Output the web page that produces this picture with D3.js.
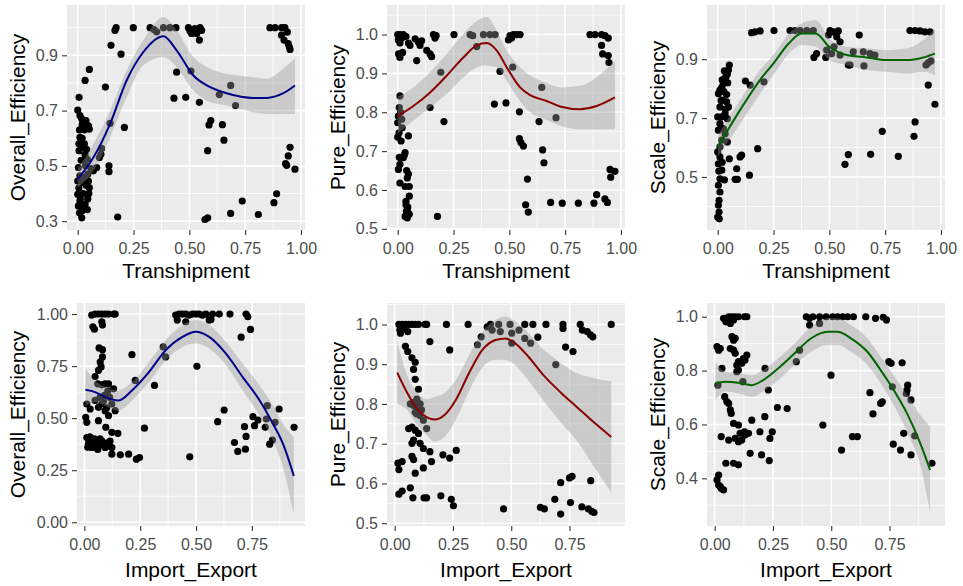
<!DOCTYPE html>
<html>
<head>
<meta charset="utf-8">
<script src="https://cdn.jsdelivr.net/npm/d3@7"></script>
<style>
body { margin: 0; background: #ffffff; }
</style>
</head>
<body>
<svg id="drawing_region"></svg>
<script>
// ---- data ----
// points: [x, y]
const transOverall = [
  [.167,.99],[.172,1.0],[.249,1.0],[.324,1.0],[.342,.993],[.354,.985],[.384,1.0],[.413,1.0],[.44,1.0],[.496,1.0],[.503,.988],[.51,.979],[.525,.997],[.533,.979],[.548,1.0],[.545,.955],[.555,.99],
  [.861,1.0],[.884,1.0],[.913,1.0],[.928,1.0],[.913,.973],[.924,.955],[.939,.984],[.943,.942],[.948,.93],[.951,.921],
  [.149,.936],[.194,.904],[.033,.809],[.052,.849],[.006,.748],[0,.702],[.01,.682],[.018,.67],[.037,.664],[.048,.645],[.052,.633],[.124,.785],[.145,.654],[.209,.639],
  [.01,.603],[.018,.579],[.025,.567],[.006,.555],[.033,.542],[.043,.524],[.107,.563],[.104,.542],[.097,.53],[.085,.494],[.07,.482],[.14,.5],[.14,.479],
  [.003,.494],[.01,.464],[0,.445],[.025,.458],[.048,.445],[.052,.421],[.043,.397],[0,.397],[.01,.373],[.033,.361],[.003,.355],[.018,.336],[.043,.342],[.018,.312],[.179,.315],
  [.02,.6],[.03,.58],[.04,.56],[.015,.52],[.035,.5],[.045,.47],[.005,.42],[.025,.4],[.012,.38],[.03,.35],[.045,.38],[.02,.65],[.03,.63],[.008,.63],[.06,.49],
  [.005,.58],[.028,.52],[.038,.43],[.022,.44],[.008,.33],[.05,.4],
  [.443,.839],[.507,.843],[.431,.745],[.484,.748],[.545,.73],[.634,.758],[.685,.791],[.707,.718],[.596,.664],[.588,.648],[.648,.649],[.655,.593],[.582,.555],
  [.951,.567],[.943,.536],[.931,.508],[.936,.502],[.973,.488],[.891,.399],[.879,.367],[.737,.373],[.685,.328],[.809,.324],[.582,.312],[.57,.306]
];
const transPure = [
  [0,1.0],[.01,1.0],[.025,1.0],[.018,.991],[.003,.986],[.01,.978],[.037,.995],[.004,.95],[.01,.941],[.022,.954],[.048,.978],[.055,.972],[.078,.989],[.093,.98],[.107,.984],[.1,.972],[.085,.933],
  [.13,.959],[.145,.95],[.152,.943],[.16,1.0],[.172,.997],[.167,.991],[.252,1.0],[.324,1.0],[.336,.997],[.354,.969],[.384,1.0],[.413,1.0],[.436,1.0],
  [.496,.986],[.503,.997],[.518,1.0],[.533,1.0],[.548,1.0],[.51,.991],[.861,1.0],[.884,1.0],[.913,1.0],[.928,.997],[.943,.991],[.913,.972],[.918,.95],[.943,.946],[.946,.928],
  [.458,.905],[.515,.916],[.193,.903],[.207,.776],[.145,.812],[.433,.821],[.485,.824],[.545,.801],[.645,.864],[.709,.786],[.633,.776],
  [.545,.732],[.552,.722],[.563,.713],[.649,.703],[.655,.67],[.581,.628],[.573,.562],[.585,.543],
  [.685,.568],[.737,.566],[.809,.566],[.879,.566],[.891,.588],[.928,.577],[.939,.568],[.951,.653],[.973,.648],[.954,.633],[.178,.532],
  [.01,.842],[.007,.812],[.003,.79],[.018,.782],[0,.773],[.006,.747],[0,.736],[.015,.726],[.048,.739],[.033,.696],[.025,.683],[.007,.684],[.01,.666],[.003,.653],
  [.048,.641],[.043,.631],[.01,.618],[.033,.609],[.052,.609],[.037,.562],[.043,.549],[.048,.536],[.033,.532],[.052,.538],[.043,.528],[.037,.571],[.052,.584],
  [.013,.8],[.02,.76],[.03,.69],[.04,.65],[.045,.556],[.039,.545]
];
const transScale = [
  [.152,.99],[.167,.993],[.19,.996],[.252,.997],[.324,.997],[.346,.997],[.369,.997],[.399,.997],[.428,.997],[.503,.997],[.518,.993],[.54,.996],[.496,.982],[.533,.976],[.548,.959],
  [.861,.997],[.884,.997],[.906,.996],[.928,.993],[.951,.993],[.488,.931],[.51,.919],[.521,.942],[.634,.982],[.431,.906],[.443,.919],[.484,.906],
  [.548,.914],[.607,.925],[.652,.925],[.682,.919],[.704,.914],[.585,.88],[.593,.88],[.655,.877],[.933,.88],[.943,.888],[.955,.894],[.943,.812],[.973,.747],
  [.884,.687],[.879,.638],[.737,.655],[.685,.577],[.809,.57],[.585,.576],[.57,.543],
  [.124,.826],[.145,.812],[.207,.823],[.179,.596],[.142,.506],[.107,.574],[.1,.568],[.085,.528],[.078,.492],[.088,.492],[.052,.562],
  [.052,.88],[.048,.863],[.043,.849],[.033,.834],[.025,.817],[.018,.804],[.01,.795],[.037,.84],[.003,.783],[.022,.761],[.04,.755],[.01,.738],[.048,.738],
  [.033,.715],[.018,.704],[0,.704],[.043,.698],[.01,.681],[.025,.664],[.003,.659],[.033,.647],[.018,.625],[.043,.619],[.01,.602],[0,.585],[.01,.568],
  [.003,.545],[.018,.523],[.01,.494],[.003,.472],[.01,.449],[.006,.421],[.003,.404],[.006,.381],[0,.364],[.007,.358],
  [.03,.86],[.02,.83],[.045,.82],[.028,.79],[.04,.78],[.015,.76],[.035,.73],[.02,.55],[.03,.49],[.005,.52]
];
const ieOverall = [
  [.033,.995],[.048,1],[.063,1],[.078,1],[.093,1],[.108,1],[.131,1],[.138,1],[.038,.939],[.045,.927],[.078,.963],[.081,.947],
  [.066,.837],[.081,.829],[.081,.794],[.071,.77],[.075,.746],[.063,.729],[.048,.7],[.06,.665],[.078,.66],[.093,.665],[.108,.665],[.131,.641],[.213,.805],[.228,.681],[.314,.657],
  [.011,.568],[.006,.504],[.011,.48],[.026,.544],[.048,.585],[.063,.552],[.078,.568],[.093,.536],[.108,.512],[.123,.568],[.138,.536],[.063,.488],[.096,.456],[.123,.432],[.15,.427],
  [.011,.407],[.018,.375],[.033,.359],[.056,.375],[.078,.391],[.093,.359],[.108,.367],[.123,.359],[.123,.327],[.161,.324],[.198,.327],[.233,.303],[.247,.311],[.269,.452],
  [.02,.39],[.04,.38],[.07,.4],[.1,.38],[.015,.36],[.05,.36],[.085,.58],[.1,.55],[.113,.6],[.03,.4],[.065,.37],
  [.025,.41],[.045,.4],[.085,.37],[.115,.39],[.06,.35],[.09,.61],[.07,.6],[.105,.63],
  [.409,.995],[.424,1],[.439,1],[.454,1],[.469,.995],[.484,1],[.499,1],[.514,1],[.529,.995],[.544,1],[.567,.974],[.574,1],[.604,1],[.652,1],[.724,1],[.732,.987],[.416,.971],[.454,.963],[.559,.971],
  [.702,.889],[.744,.926],[.364,.794],[.353,.842],[.504,.749],[.472,.314],[.597,.483],[.626,.539],[.672,.383],[.687,.34],[.717,.459],[.724,.412],[.721,.351],
  [.755,.507],[.777,.491],[.762,.464],[.819,.56],[.815,.496],[.81,.456],[.854,.48],[.83,.375],[.842,.395],[.872,.544],[.939,.456]
];
const iePure = [
  [.018,1],[.032,1],[.046,1],[.06,1],[.074,1],[.088,1],[.102,1],[.13,1],[.137,1],[.022,.986],[.025,.978],[.039,.99],[.056,.982],
  [.222,1],[.315,1],[.411,1],[.446,1],[.495,1],[.558,1],[.593,1],[.649,1],[.722,1],[.796,1],[.929,1],[.397,.994],[.453,.982],[.418,.986],[.533,.986],[.502,.978],
  [.722,.99],[.805,.986],[.826,.982],[.84,.974],[.85,.969],[.502,.953],[.558,.965],[.583,.953],[.614,.968],[.371,.969],[.355,.949],[.733,.943],[.765,.932],[.691,.899],[.236,.936],[.151,.957],
  [.046,.945],[.056,.932],[.074,.916],[.088,.905],[.081,.887],[.088,.862],[.102,.837],[.067,.8],[.081,.796],[.095,.812],[.109,.8],[.088,.779],[.109,.771],[.137,.738],[.123,.759],
  [.085,.805],[.1,.79],[.115,.785],[.095,.775],
  [.06,.738],[.074,.742],[.088,.734],[.102,.726],[.081,.709],[.074,.701],[.109,.701],[.123,.688],[.151,.68],[.207,.672],[.236,.664],[.264,.683],[.158,.655],[.123,.639],[.088,.626],
  [.032,.655],[.018,.635],[.014,.651],[.074,.668],[.081,.66],
  [.067,.589],[.018,.573],[.032,.581],[.078,.564],[.126,.564],[.137,.564],[.198,.569],[.243,.56],[.252,.544],[.467,.536],
  [.625,.54],[.642,.536],[.687,.56],[.712,.602],[.75,.614],[.761,.618],[.712,.523],[.754,.552],[.803,.541],[.831,.536],[.845,.53],[.855,.527],[.841,.607]
];
const ieScale = [
  [.038,.994],[.052,.994],[.06,1],[.074,1],[.088,1],[.102,1],[.128,1],[.138,1],[.048,.981],[.067,.975],[.081,.988],
  [.393,1],[.407,.994],[.421,1],[.45,1],[.478,1],[.506,1],[.527,1],[.549,1],[.57,1],[.595,1],[.648,1],[.69,.994],[.723,.998],[.737,.988],[.407,.969],[.45,.975],
  [.01,.889],[.017,.876],[.024,.882],[.031,.808],[.074,.926],[.081,.913],[.088,.92],[.067,.882],[.081,.876],[.088,.864],[.102,.833],[.095,.82],[.116,.827],[.123,.845],[.13,.839],[.138,.858],
  [.095,.796],[.102,.802],[.121,.759],[.216,.808],[.23,.728],[.35,.833],[.364,.876],
  [.014,.746],[.043,.703],[.052,.685],[.06,.678],[.067,.654],[.071,.641],[.081,.604],[.102,.598],[.109,.567],[.128,.573],[.13,.561],[.145,.567],[.159,.616],
  [.116,.542],[.102,.536],[.088,.548],[.06,.542],[.028,.555],[.152,.493],[.048,.456],[.081,.456],[.102,.45],[.194,.573],[.201,.487],[.234,.466],[.215,.629],[.237,.548],[.247,.573],[.269,.663],[.311,.659],
  [.017,.412],[.01,.394],[.017,.375],[.028,.363],[.038,.357],[.024,.369],
  [.464,.598],[.499,.783],[.591,.555],[.612,.555],[.544,.505],[.666,.718],[.679,.639],[.712,.678],[.719,.684],[.747,.833],[.757,.827],[.762,.74],
  [.766,.527],[.797,.505],[.804,.829],[.811,.567],[.825,.728],[.822,.715],[.828,.746],[.842,.691],[.842,.487],[.858,.558],[.932,.456]
];

// smoother: [x, fit, lower, upper]
const transOverallFit = [
  [0,.452,.42,.49],[.07,.53,.482,.579],[.145,.652,.603,.70],[.219,.809,.748,.845],[.294,.912,.864,.955],[.384,.969,.894,1.039],[.443,.918,.858,.991],
  [.518,.827,.773,.894],[.578,.791,.736,.858],[.667,.763,.718,.833],[.787,.746,.694,.821],[.846,.746,.688,.815],[.921,.763,.688,.852],[.973,.791,.688,.888]
];
const transPureFit = [
  [0,.79,.745,.84],[.07,.816,.778,.864],[.145,.851,.812,.903],[.219,.894,.847,.95],[.294,.941,.89,1.002],[.354,.972,.915,1.035],[.399,.978,.92,1.045],
  [.443,.959,.916,1.01],[.488,.916,.881,.959],[.548,.864,.829,.916],[.593,.844,.8,.895],[.667,.829,.78,.875],[.727,.815,.765,.864],[.816,.808,.756,.868],[.891,.816,.756,.89],[.973,.838,.756,.933]
];
const transScaleFit = [
  [0,.602,.568,.642],[.1,.727,.681,.761],[.19,.83,.783,.863],[.249,.885,.846,.914],[.32,.955,.919,.987],[.375,.987,.948,1.021],[.439,.987,.942,1.032],
  [.5,.942,.897,.97],[.578,.914,.88,.942],[.667,.906,.863,.937],[.757,.897,.857,.931],[.846,.897,.851,.937],[.921,.906,.857,.965],[.973,.919,.846,1.004]
];
const ieOverallFit = [
  [.005,.636,.56,.737],[.048,.625,.576,.681],[.093,.601,.56,.649],[.153,.585,.536,.633],[.213,.633,.585,.673],[.289,.721,.673,.77],[.364,.826,.778,.874],
  [.439,.89,.842,.947],[.499,.915,.858,.971],[.559,.89,.834,.947],[.634,.81,.754,.866],[.709,.697,.633,.762],[.785,.585,.512,.657],[.845,.472,.391,.56],[.89,.375,.262,.472],[.938,.222,.037,.407]
];
const iePureFit = [
  [.011,.879,.80,.957],[.053,.829,.785,.873],[.095,.788,.748,.83],[.137,.767,.722,.812],[.172,.761,.705,.818],[.215,.773,.718,.828],[.264,.812,.762,.862],
  [.32,.879,.834,.924],[.376,.936,.891,.981],[.432,.961,.911,1.011],[.474,.965,.91,1.02],[.516,.953,.898,1.008],[.572,.92,.86,.98],[.642,.87,.805,.935],
  [.712,.829,.754,.904],[.782,.792,.707,.877],[.852,.755,.645,.865],[.929,.717,.577,.857]
];
const ieScaleFit = [
  [.003,.753,.691,.833],[.045,.759,.722,.796],[.102,.755,.715,.79],[.159,.746,.703,.783],[.208,.765,.722,.802],[.272,.808,.765,.845],[.343,.864,.821,.901],
  [.414,.92,.87,.963],[.485,.944,.895,.994],[.527,.944,.895,.994],[.584,.92,.87,.969],[.655,.87,.821,.92],[.712,.802,.753,.852],[.768,.728,.672,.783],
  [.825,.641,.573,.709],[.882,.53,.449,.635],[.924,.431,.276,.592]
];

// tick labels
const transTicks = [0, 0.25, 0.5, 0.75, 1.0];
const ieTicks = [0, 0.25, 0.5, 0.75];
const overallTopTicks = [0.3, 0.5, 0.7, 0.9];
const pureTicks = [0.5, 0.6, 0.7, 0.8, 0.9, 1.0];
const scaleTopTicks = [0.5, 0.7, 0.9];
const overallBottomTicks = [0, 0.25, 0.5, 0.75, 1.0];
const scaleBottomTicks = [0.4, 0.6, 0.8, 1.0];

const panels = [
  { cell: 0,   left: 67,  right: 305, top: 5,   bottom: 230, xDomain: [-0.048, 1.018], yDomain: [0.268, 1.082],
    xTicks: transTicks, yTicks: overallTopTicks, yFmt: '.1f', xLabel: 'Transhipment', yLabel: 'Overall_Efficiency',
    points: transOverall, fit: transOverallFit, color: '#00008B' },
  { cell: 320, left: 387, right: 625, top: 5,   bottom: 230, xDomain: [-0.048, 1.018], yDomain: [0.497, 1.076],
    xTicks: transTicks, yTicks: pureTicks, yFmt: '.1f', xLabel: 'Transhipment', yLabel: 'Pure_Efficiency',
    points: transPure, fit: transPureFit, color: '#8B0000' },
  { cell: 640, left: 707, right: 945, top: 5,   bottom: 230, xDomain: [-0.048, 1.018], yDomain: [0.32, 1.084],
    xTicks: transTicks, yTicks: scaleTopTicks, yFmt: '.1f', xLabel: 'Transhipment', yLabel: 'Scale_Efficiency',
    points: transScale, fit: transScaleFit, color: '#006400' },
  { cell: 0,   left: 77,  right: 305, top: 303, bottom: 526, xDomain: [-0.033, 0.988], yDomain: [-0.018, 1.053],
    xTicks: ieTicks, yTicks: overallBottomTicks, yFmt: '.2f', xLabel: 'Import_Export', yLabel: 'Overall_Efficiency',
    points: ieOverall, fit: ieOverallFit, color: '#00008B' },
  { cell: 320, left: 387, right: 625, top: 303, bottom: 526, xDomain: [-0.033, 0.988], yDomain: [0.493, 1.054],
    xTicks: ieTicks, yTicks: pureTicks, yFmt: '.1f', xLabel: 'Import_Export', yLabel: 'Pure_Efficiency',
    points: iePure, fit: iePureFit, color: '#8B0000' },
  { cell: 640, left: 707, right: 945, top: 303, bottom: 526, xDomain: [-0.033, 0.988], yDomain: [0.223, 1.051],
    xTicks: ieTicks, yTicks: scaleBottomTicks, yFmt: '.1f', xLabel: 'Import_Export', yLabel: 'Scale_Efficiency',
    points: ieScale, fit: ieScaleFit, color: '#006400' }
];

const FONT = '"Liberation Sans", Arial, sans-serif';

const svg = d3.select('#drawing_region')
    .attr('width', 963)
    .attr('height', 586);

// minor breaks halfway between the major ones, kept inside the domain
function minorBreaks(ticks, domain) {
    const step = ticks[1] - ticks[0];
    const out = ticks.map(t => t - step / 2);
    out.push(ticks[ticks.length - 1] + step / 2);
    return out.filter(v => v > domain[0] && v < domain[1]);
}

panels.forEach((p, i) => {
    const x = d3.scaleLinear().domain(p.xDomain).range([p.left, p.right]);
    const y = d3.scaleLinear().domain(p.yDomain).range([p.bottom, p.top]);
    const g = svg.append('g');

    g.append('clipPath').attr('id', 'clip' + i)
      .append('rect')
        .attr('x', p.left).attr('y', p.top)
        .attr('width', p.right - p.left).attr('height', p.bottom - p.top);

    g.append('rect')
        .attr('x', p.left).attr('y', p.top)
        .attr('width', p.right - p.left).attr('height', p.bottom - p.top)
        .attr('fill', '#EBEBEB');

    // grid
    const grid = g.append('g').attr('stroke', '#ffffff');
    grid.selectAll('.xminor').data(minorBreaks(p.xTicks, p.xDomain)).enter().append('line')
        .attr('x1', d => x(d)).attr('x2', d => x(d)).attr('y1', p.top).attr('y2', p.bottom)
        .attr('stroke-width', 0.8);
    grid.selectAll('.yminor').data(minorBreaks(p.yTicks, p.yDomain)).enter().append('line')
        .attr('y1', d => y(d)).attr('y2', d => y(d)).attr('x1', p.left).attr('x2', p.right)
        .attr('stroke-width', 0.8);
    grid.selectAll('.xmajor').data(p.xTicks).enter().append('line')
        .attr('x1', d => x(d)).attr('x2', d => x(d)).attr('y1', p.top).attr('y2', p.bottom)
        .attr('stroke-width', 1.6);
    grid.selectAll('.ymajor').data(p.yTicks).enter().append('line')
        .attr('y1', d => y(d)).attr('y2', d => y(d)).attr('x1', p.left).attr('x2', p.right)
        .attr('stroke-width', 1.6);

    const plot = g.append('g').attr('clip-path', `url(#clip${i})`);

    // points
    plot.selectAll('circle').data(p.points).enter().append('circle')
        .attr('cx', d => x(d[0]))
        .attr('cy', d => y(d[1]))
        .attr('r', 3.6)
        .attr('fill', '#000000');

    // confidence band, drawn over the points like geom_smooth
    const band = d3.area()
        .x(d => x(d[0]))
        .y0(d => y(d[2]))
        .y1(d => y(d[3]))
        .curve(d3.curveMonotoneX);
    plot.append('path').datum(p.fit)
        .attr('d', band)
        .attr('fill', '#999999')
        .attr('opacity', 0.4);

    const line = d3.line()
        .x(d => x(d[0]))
        .y(d => y(d[1]))
        .curve(d3.curveMonotoneX);
    plot.append('path').datum(p.fit)
        .attr('d', line)
        .attr('fill', 'none')
        .attr('stroke', p.color)
        .attr('stroke-width', 2);

    // axes
    const xAxis = g.append('g')
        .attr('transform', `translate(0,${p.bottom})`)
        .call(d3.axisBottom(x).tickValues(p.xTicks).tickFormat(d3.format('.2f')).tickSize(5).tickPadding(8));
    const yAxis = g.append('g')
        .attr('transform', `translate(${p.left},0)`)
        .call(d3.axisLeft(y).tickValues(p.yTicks).tickFormat(d3.format(p.yFmt)).tickSize(5).tickPadding(4));
    [xAxis, yAxis].forEach(a => {
        a.select('.domain').remove();
        a.attr('font-family', FONT).attr('font-size', 16);
        a.selectAll('line').attr('stroke', '#333333').attr('stroke-width', 1.1);
        a.selectAll('text').attr('fill', '#4D4D4D');
    });

    // titles
    g.append('text')
        .attr('x', (p.left + p.right) / 2)
        .attr('y', p.top < 100 ? 278 : 577)
        .attr('text-anchor', 'middle')
        .attr('font-family', FONT)
        .attr('font-size', 21)
        .attr('fill', '#000000')
        .text(p.xLabel);

    g.append('text')
        .attr('transform', `translate(${p.cell + 25},${(p.top + p.bottom) / 2}) rotate(-90)`)
        .attr('text-anchor', 'middle')
        .attr('font-family', FONT)
        .attr('font-size', 21)
        .attr('fill', '#000000')
        .text(p.yLabel);
});
</script>
</body>
</html>
